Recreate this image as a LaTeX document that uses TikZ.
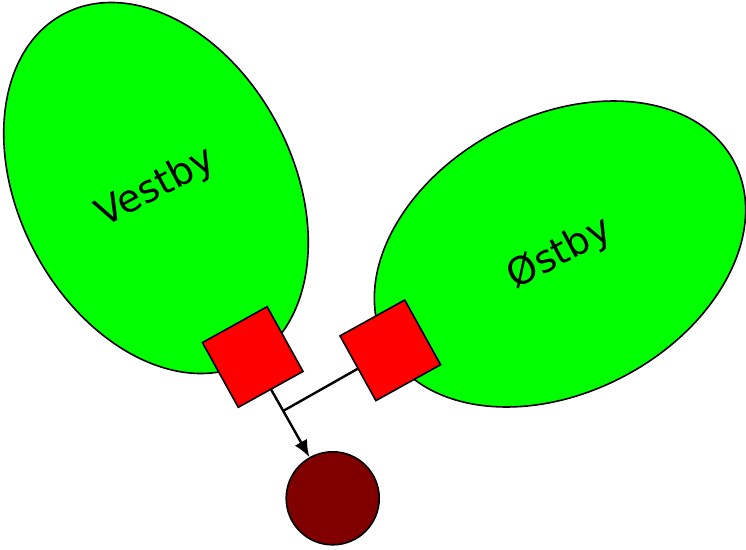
\documentclass[tikz,border=0pt]{standalone}
\usepackage{fontspec}
\setmainfont{DejaVu Sans}
\usetikzlibrary{calc,arrows.meta,shapes.geometric}
\definecolor{regiongreen}{RGB}{0,255,0}
\definecolor{gatered}{RGB}{255,0,0}
\definecolor{targetred}{RGB}{128,0,0}
\begin{document}
\begin{tikzpicture}[x=1pt,y=-1pt,
  region/.style={ellipse, draw=black, fill=regiongreen, line width=1.6pt, inner sep=0pt,
    rotate=28, font=\fontsize{38}{44}\selectfont},
  gate/.style={rectangle, draw=black, fill=gatered, line width=1.6pt, minimum size=74pt,
    inner sep=0pt, rotate=29},
  target/.style={circle, draw=black, fill=targetred, line width=1.6pt, minimum size=93pt, inner sep=0pt},
  link/.style={draw=black, line width=2.4pt},
  arr/.style={link, -{Latex[length=17pt,width=14pt]}}]
\useasboundingbox (0,0) rectangle (746,549);
\node[region, minimum width=274pt, minimum height=394pt] (vestby) at (156,188) {Vestby};
\node[region, minimum width=394pt, minimum height=276pt] (ostby) at (560,254) {Østby};
\node[gate] (lsq) at (252.7,357) {};
\node[gate] (rsq) at (390.3,350.3) {};
\node[target] (tgt) at (332.7,498.3) {};
\coordinate (j) at ($(lsq)!(rsq)!(tgt)$);
\draw[arr] (lsq) -- (tgt);
\draw[link] (rsq) -- (j);
\end{tikzpicture}
\end{document}
